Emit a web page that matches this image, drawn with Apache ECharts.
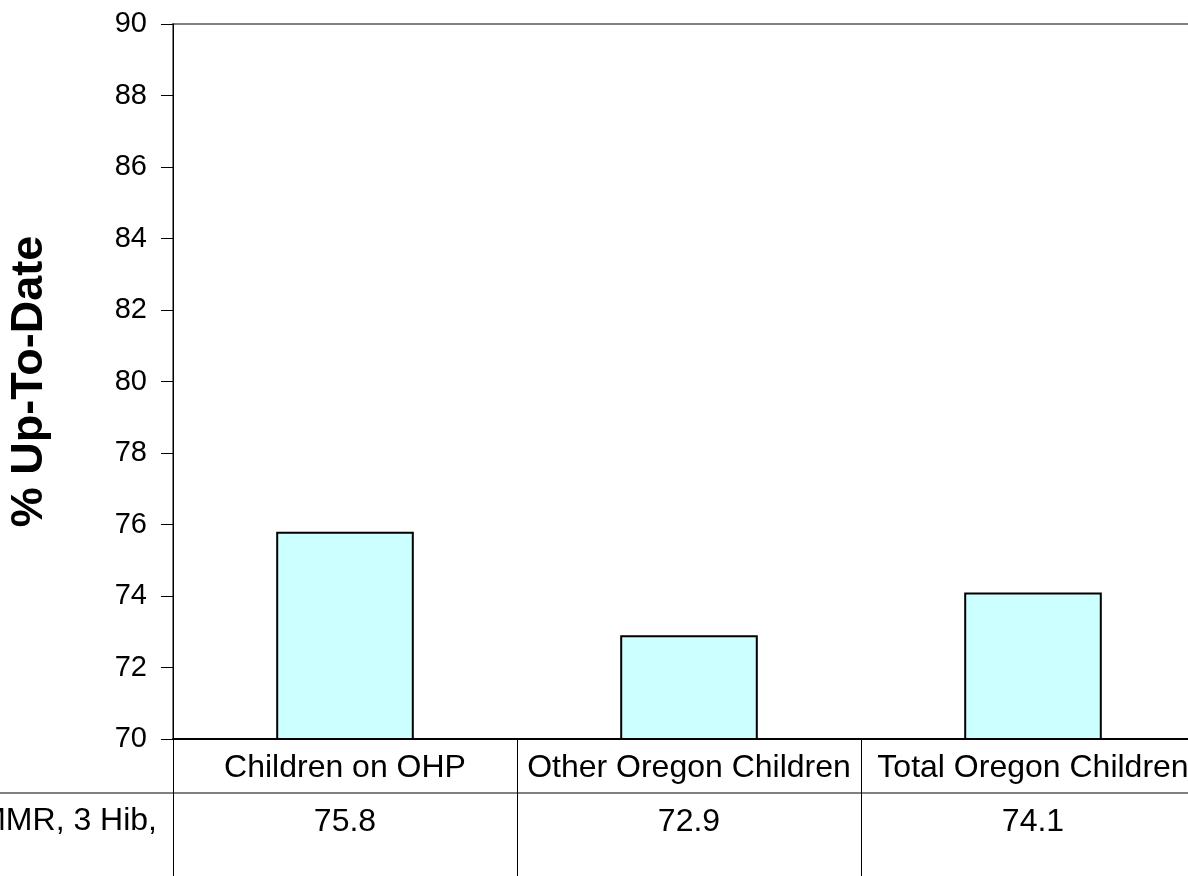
<!DOCTYPE html>
<html>
<head>
<meta charset="utf-8">
<script src="https://cdn.jsdelivr.net/npm/echarts@6/dist/echarts.min.js"></script>
<style>
html,body{margin:0;padding:0;background:#fff;}
#chart{width:1188px;height:876px;}
</style>
</head>
<body>
<div id="chart"></div>
<script>
const categories = ['Children on OHP', 'Other Oregon Children', 'Total Oregon Children'];
const values = [75.8, 72.9, 74.1];
const rowLabel = 'MMR, 3 Hib,';
const yTitle = '% Up-To-Date';
const yMin = 70, yMax = 90, yStep = 2;

const FONT = '"Liberation Sans", Arial, Helvetica, sans-serif';
const chart = echarts.init(document.getElementById('chart'), null, {renderer: 'canvas'});

chart.setOption({
  backgroundColor: '#ffffff',
  animation: false,
  grid: {
    left: 173, top: 24, width: 1032, height: 715,
    outerBoundsMode: 'none', containLabel: false,
    show: true, borderColor: '#808080', borderWidth: 2, backgroundColor: 'transparent'
  },
  xAxis: [
    {
      type: 'category', data: categories, position: 'bottom',
      axisLine: {show: true, lineStyle: {color: '#000', width: 2}},
      axisTick: {show: true, interval: 0, length: 137, alignWithLabel: false, lineStyle: {color: '#000', width: 1}},
      axisLabel: {interval: 0, margin: 13, fontSize: 32, color: '#000', fontFamily: FONT},
      splitLine: {show: false}
    },
    {
      type: 'category', data: values.map(v => v.toFixed(1)), position: 'bottom', offset: 54,
      axisLine: {show: false}, axisTick: {show: false},
      axisLabel: {interval: 0, margin: 13, fontSize: 32, color: '#000', fontFamily: FONT},
      splitLine: {show: false}
    }
  ],
  yAxis: {
    type: 'value', min: yMin, max: yMax, interval: yStep,
    name: yTitle, nameLocation: 'middle', nameRotate: 90, nameGap: 121,
    nameTextStyle: {fontSize: 45, fontWeight: 'bold', color: '#000', fontFamily: FONT},
    axisLine: {show: true, lineStyle: {color: '#000', width: 1}},
    axisTick: {show: true, length: 12, lineStyle: {color: '#000', width: 1}},
    axisLabel: {margin: 26, fontSize: 29, color: '#000', fontFamily: FONT},
    splitLine: {show: false}
  },
  graphic: [
    {type: 'line', shape: {x1: 0, y1: 793, x2: 1188, y2: 793}, style: {stroke: '#808080', lineWidth: 2}},
    {type: 'text', right: 1188 - 157, top: 805, style: {text: rowLabel, font: '32px ' + FONT, fill: '#000', textAlign: 'right'}}
  ],
  series: [{
    type: 'bar', xAxisIndex: 0, data: values, barWidth: '40%',
    itemStyle: {color: '#CCFFFF', borderColor: '#000', borderWidth: 2},
    label: {show: false}
  }]
});
</script>
</body>
</html>
